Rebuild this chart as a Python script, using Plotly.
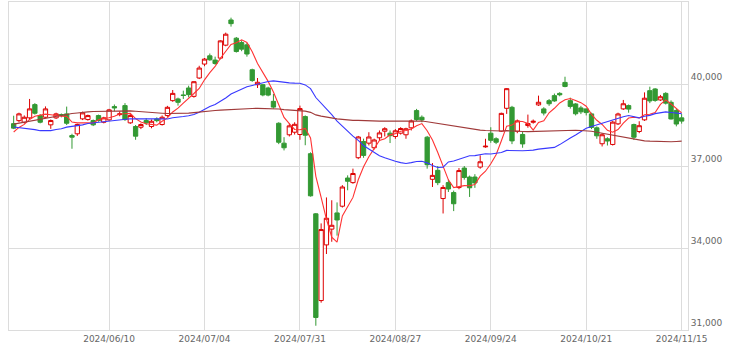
import plotly.graph_objects as go
import pandas as pd

dates = [
    "2024/05/15", "2024/05/16", "2024/05/17", "2024/05/20", "2024/05/21", "2024/05/22", "2024/05/23", "2024/05/24",
    "2024/05/27", "2024/05/28", "2024/05/29", "2024/05/30", "2024/05/31",
    "2024/06/03", "2024/06/04", "2024/06/05", "2024/06/06", "2024/06/07", "2024/06/10", "2024/06/11", "2024/06/12",
    "2024/06/13", "2024/06/14", "2024/06/17", "2024/06/18", "2024/06/19", "2024/06/20", "2024/06/21", "2024/06/24",
    "2024/06/25", "2024/06/26", "2024/06/27", "2024/06/28",
    "2024/07/01", "2024/07/02", "2024/07/03", "2024/07/04", "2024/07/05", "2024/07/08", "2024/07/09", "2024/07/10",
    "2024/07/11", "2024/07/12", "2024/07/16", "2024/07/17", "2024/07/18", "2024/07/19", "2024/07/22", "2024/07/23",
    "2024/07/24", "2024/07/25", "2024/07/26", "2024/07/29", "2024/07/30", "2024/07/31",
    "2024/08/01", "2024/08/02", "2024/08/05", "2024/08/06", "2024/08/07", "2024/08/08", "2024/08/09", "2024/08/13",
    "2024/08/14", "2024/08/15", "2024/08/16", "2024/08/19", "2024/08/20", "2024/08/21", "2024/08/22", "2024/08/23",
    "2024/08/26", "2024/08/27", "2024/08/28", "2024/08/29", "2024/08/30",
    "2024/09/02", "2024/09/03", "2024/09/04", "2024/09/05", "2024/09/06", "2024/09/09", "2024/09/10", "2024/09/11",
    "2024/09/12", "2024/09/13", "2024/09/17", "2024/09/18", "2024/09/19", "2024/09/20", "2024/09/24", "2024/09/25",
    "2024/09/26", "2024/09/27", "2024/09/30",
    "2024/10/01", "2024/10/02", "2024/10/03", "2024/10/04", "2024/10/07", "2024/10/08", "2024/10/09", "2024/10/10",
    "2024/10/11", "2024/10/15", "2024/10/16", "2024/10/17", "2024/10/18", "2024/10/21", "2024/10/22", "2024/10/23",
    "2024/10/24", "2024/10/25", "2024/10/28", "2024/10/29", "2024/10/30", "2024/10/31",
    "2024/11/01", "2024/11/05", "2024/11/06", "2024/11/07", "2024/11/08", "2024/11/11", "2024/11/12", "2024/11/13",
    "2024/11/14", "2024/11/15",
]

open_ = [
    38550, 38660, 38600, 38761, 39246, 38845, 38783, 38506, 38761, 38880, 38907, 38116, 38178,
    38725, 38699, 38663, 38845, 38601, 38688, 39173, 38880, 39209, 38579, 38444, 38419, 38663, 38444, 38720, 38517,
    38845, 39391, 39453, 39600,
    39854, 39548, 40219, 40729, 41031, 40875, 40947, 41421, 42343, 41676, 41516, 41432, 40521, 39974, 39974, 39854,
    39366, 38564, 37835, 38142, 38236, 38152,
    38808, 37450, 35250, 32077, 34113, 34691, 35283, 35529, 36560, 36392, 37303, 37897, 37836, 37668, 38032, 38273,
    38200, 38080, 38200, 38142, 38397,
    39027, 38783, 38054, 36513, 36841, 35809, 36392, 36028, 36210, 36924, 36596, 36596, 36961, 37700, 38200, 37996,
    38273, 39111, 39147,
    38273, 38153, 38480, 38600, 39235, 39089, 39391, 39574, 39657, 40058, 39391, 39271, 39125, 39089, 38907, 38397,
    37814, 37996, 37788, 38542, 39089, 39209,
    38517, 38262, 38688, 39756, 39818, 39417, 39657, 39330, 39027, 38761,
]

high = [
    38840, 38950, 38850, 39453, 39300, 38900, 39180, 38700, 38950, 38920, 39173, 38180, 38550,
    38990, 38880, 38700, 38880, 38800, 39090, 39250, 39000, 39300, 38900, 38500, 38560, 38750, 38700, 38780, 38850,
    39200, 39780, 39500, 39756,
    39938, 40100, 40667, 40950, 41115, 41000, 41600, 41880, 42427, 41720, 41600, 41500, 40560, 40219, 40000, 39900,
    39636, 38600, 38054, 38564, 38600, 39209,
    38850, 37500, 35280, 34900, 35850, 35747, 35668, 36300, 36658, 36903, 38100, 38000, 38236, 38000, 38300, 38419,
    38300, 38350, 38420, 38400, 38700,
    39089, 38850, 38100, 37107, 37000, 36300, 36500, 36100, 36924, 37000, 36650, 36700, 37387, 37996, 38418, 38050,
    38950, 39850, 39200,
    38700, 38250, 38881, 38700, 39574, 39150, 39450, 39650, 39700, 40266, 39500, 39300, 39200, 39100, 38950, 38450,
    38200, 38050, 38650, 38950, 39417, 39250,
    38550, 38637, 39694, 39902, 39850, 39600, 39700, 39400, 39100, 38900,
]

low = [
    38350, 38600, 38550, 38700, 38880, 38560, 38750, 38360, 38720, 38780, 38500, 37631, 38100,
    38680, 38660, 38460, 38620, 38560, 38650, 39000, 38820, 38650, 38540, 37959, 38350, 38500, 38380, 38600, 38480,
    38800, 39350, 39209, 39453,
    39512, 39500, 40180, 40650, 40850, 40700, 40900, 41380, 42100, 41150, 41200, 41000, 40080, 39854, 39550, 39550,
    39100, 37800, 37570, 38080, 38150, 37959,
    37760, 35880, 31156, 32000, 33780, 34228, 34453, 35480, 36112, 36350, 37250, 37300, 37752, 37600, 37950, 38080,
    37840, 37996, 38150, 37996, 38300,
    38650, 38600, 36903, 36232, 36300, 35263, 36050, 35350, 36150, 36500, 35868, 36200, 36900, 37668, 37850, 37800,
    38250, 38907, 37800,
    38200, 37668, 38400, 38550, 39200, 38850, 39200, 39350, 39550, 39880, 39100, 38850, 38900, 38850, 38350, 37996,
    37715, 37750, 37750, 38500, 39050, 38950,
    37950, 38200, 38650, 39300, 39350, 39380, 39250, 38700, 38450, 38550,
]

close = [
    38385, 38907, 38783, 39089, 38929, 38601, 39089, 38663, 38907, 38855, 38564, 38054, 38517,
    38943, 38845, 38506, 38663, 38761, 39053, 39125, 38907, 38699, 38845, 38091, 38517, 38579, 38637, 38660, 38783,
    39147, 39657, 39330, 39580,
    39610, 40084, 40583, 40911, 40885, 40751, 41578, 41822, 42208, 41188, 41275, 41097, 40126, 40063, 39599, 39594,
    39154, 37869, 37667, 38468, 38525, 39101,
    38126, 35909, 31458, 34675, 35089, 34831, 35025, 36232, 36442, 36726, 38062, 37388, 38062, 37951, 38211, 38364,
    38110, 38288, 38371, 38362, 38647,
    38700, 38686, 37047, 36657, 36391, 36215, 36159, 35619, 36833, 36581, 36203, 36380, 37155, 37723, 37940, 37870,
    38925, 39829, 37919,
    38651, 37808, 38552, 38635, 39332, 38937, 39277, 39380, 39605, 39910, 39180, 38911, 38981, 38954, 38411, 38104,
    38143, 37913, 38605, 38903, 39277, 39081,
    38053, 38474, 39480, 39381, 39400, 39533, 39300, 38721, 38535, 38642,
]

# closes before the visible window (2024/01/24 - 2024/05/14), used only to warm up the moving averages
prior_close = [
    36226, 36236, 35751, 36026, 36066, 36287,
    36011, 36158, 36354, 36160, 36119, 36863, 36897, 37963, 37703, 38157, 38487, 38470, 38364, 38262, 39099, 39233,
    39240, 39208, 39166,
    39911, 40110, 40098, 40091, 39599, 39689, 38820, 38797, 38696, 38807, 38708, 39740, 40004, 40816, 40888, 40414,
    40398, 40763, 40168, 40369,
    39803, 39838, 39451, 39773, 38992, 39347, 39773, 39581, 39442, 39524, 39233, 38471, 37962, 38080, 37068, 37439,
    37552, 38460, 37629, 37935, 38406,
    38274, 38236, 38835, 38202, 38074, 38229, 38179, 38356,
]

ma_windows = [5, 25, 75]
ma_colors = ["#ff3333", "#3838ff", "#a03a3a"]

x_ticks = ["2024/06/10", "2024/07/04", "2024/07/31", "2024/08/27", "2024/09/24", "2024/10/21", "2024/11/15"]
y_ticks = [31000, 34000, 37000, 40000]

all_close = pd.Series(prior_close + close, dtype=float)
n_prior = len(prior_close)

fig = go.Figure()
fig.add_trace(go.Candlestick(
    x=dates, open=open_, high=high, low=low, close=close,
    increasing=dict(line=dict(color="#dd0000", width=1), fillcolor="#ffffff"),
    decreasing=dict(line=dict(color="#339933", width=1), fillcolor="#339933"),
    whiskerwidth=0, showlegend=False, hoverinfo="skip",
))
for w, c in zip(ma_windows, ma_colors):
    ma = all_close.rolling(w).mean().iloc[n_prior:].round(1).tolist()
    fig.add_trace(go.Scatter(x=dates, y=ma, mode="lines", line=dict(color=c, width=1.1),
                             showlegend=False, hoverinfo="skip"))

fig.update_layout(
    width=735, height=359,
    margin=dict(l=9, r=47, t=2, b=29),
    paper_bgcolor="#ffffff", plot_bgcolor="#ffffff",
    boxgap=0.1, boxgroupgap=0.1,
    hovermode=False,
    font=dict(family="DejaVu Sans", size=9, color="#666666"),
    xaxis=dict(
        type="category", categoryorder="trace", range=[-0.88, 127.2],
        rangeslider=dict(visible=False),
        tickmode="array", tickvals=x_ticks, ticktext=x_ticks,
        showgrid=True, gridcolor="#dcdcdc", gridwidth=1,
        showline=True, linecolor="#dcdcdc", mirror=True, linewidth=1,
        ticks="", zeroline=False,
        tickfont=dict(family="DejaVu Sans", size=9, color="#666666"),
    ),
    yaxis=dict(
        side="right", range=[31000, 43000],
        tickmode="array", tickvals=y_ticks, tickformat=",",
        showgrid=True, gridcolor="#dcdcdc", gridwidth=1,
        showline=True, linecolor="#dcdcdc", mirror=True, linewidth=1,
        ticks="", zeroline=False, ticklabelshift=-7,
        tickfont=dict(family="DejaVu Sans", size=9, color="#666666"),
    ),
)

fig.write_html(
    "out.html",
    config={"displayModeBar": False, "staticPlot": True},
    post_script="document.body.style.margin='0';document.body.style.overflow='hidden';",
)
